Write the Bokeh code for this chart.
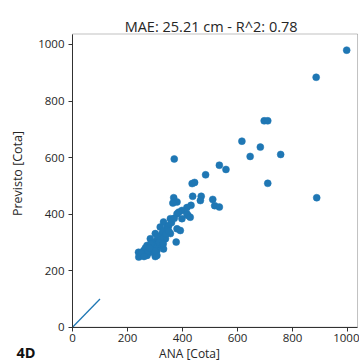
import numpy as np
from bokeh.plotting import figure
from bokeh.models import Label, Range1d, FixedTicker, BoxAnnotation
from bokeh.embed import file_html
from bokeh.resources import INLINE

# observed (ANA) vs predicted values
ana = [997, 886, 697, 710, 616, 683, 646, 757, 370, 534, 558, 484, 710, 444, 435,
       888, 368, 380, 365, 437, 468, 465, 510, 517, 534, 431, 416, 398, 386, 420,
       356, 331, 380, 416, 428, 398, 319, 344, 380, 392, 301, 326, 356, 283, 307,
       338, 377, 271, 295, 319, 259, 283, 307, 331, 247, 271, 301, 240, 241, 307,
       290, 310, 330, 350, 340, 360, 300, 265, 285, 320, 345, 370, 250, 260, 275,
       315, 330, 300, 280, 350]
previsto = [980, 884, 730, 730, 658, 637, 604, 611, 595, 573, 558, 539, 509, 512, 508,
            458, 458, 443, 439, 463, 463, 448, 452, 430, 425, 431, 423, 413, 407, 395,
            384, 372, 401, 401, 389, 384, 354, 354, 348, 342, 331, 331, 331, 313, 307,
            313, 301, 289, 283, 289, 271, 265, 271, 277, 254, 254, 250, 265, 248, 254,
            300, 320, 340, 360, 330, 370, 290, 280, 295, 310, 345, 385, 262, 250, 270,
            300, 295, 270, 280, 340]
ref_x = [0, 100]
ref_y = [0, 100]
ticks = [0, 200, 400, 600, 800, 1000]
title_text = "MAE: 25.21 cm - R^2:  0.78"
x_label = "ANA [Cota]"
y_label = "Previsto [Cota]"
panel_tag = "4D"

# axis limits of the plot box
X_MAX = 1036.4
Y_MAX = 1037.1

FONT = "Open Sans"
BLUE = "#1f77b4"
TXT = "#262626"
SPINE = "#333333"

W, H = 359, 363
p = figure(width=W, height=H, output_backend="svg", toolbar_location=None,
           x_range=Range1d(-261.8, 1043.6), y_range=Range1d(-128.4, 1155.6),
           min_border=0)
p.outline_line_color = None
p.grid.visible = False
p.background_fill_color = "white"
p.border_fill_color = "white"

p.xaxis.fixed_location = 0
p.yaxis.fixed_location = 0
p.xaxis.bounds = (0, X_MAX)
p.yaxis.bounds = (0, Y_MAX)
for ax in (p.xaxis[0], p.yaxis[0]):
    ax.ticker = FixedTicker(ticks=ticks)
    ax.minor_tick_line_color = None
    ax.major_tick_in = 0
    ax.major_tick_out = 4
    ax.major_label_text_font = FONT
    ax.major_label_text_font_size = "11.5px"
    ax.major_label_text_color = TXT
    ax.axis_line_color = SPINE
    ax.major_tick_line_color = SPINE
p.xaxis.major_label_standoff = 3
p.yaxis.major_label_standoff = 4

# plot box (spines)
p.add_layout(BoxAnnotation(left=0, right=X_MAX, bottom=0, top=Y_MAX,
                           fill_color=None, line_color=SPINE, line_width=1))

p.line(ref_x, ref_y, line_color=BLUE, line_width=1.3)
p.scatter(ana, previsto, size=7, fill_color=BLUE, line_color=BLUE, line_width=0.5)

p.add_layout(Label(x=510.9, y=1062.6, text=title_text, text_align="center",
                   text_baseline="alphabetic", text_font=FONT, text_font_size="14.5px",
                   text_color=TXT))
p.add_layout(Label(x=425.5, y=-93, text=x_label, text_align="center",
                   text_baseline="alphabetic", text_font=FONT, text_font_size="12px",
                   text_color=TXT))
p.add_layout(Label(x=-203.6, y=-91, text=panel_tag, text_align="left",
                   text_baseline="alphabetic", text_font=FONT, text_font_size="14.5px",
                   text_font_style="bold", text_color="#111111"))
p.add_layout(Label(x=-201, y=543.7, text=y_label, angle=np.pi / 2,
                   text_align="center", text_baseline="middle", text_font=FONT,
                   text_font_size="12.5px", text_color=TXT))

open("out.html", "w").write(file_html(p, INLINE))
